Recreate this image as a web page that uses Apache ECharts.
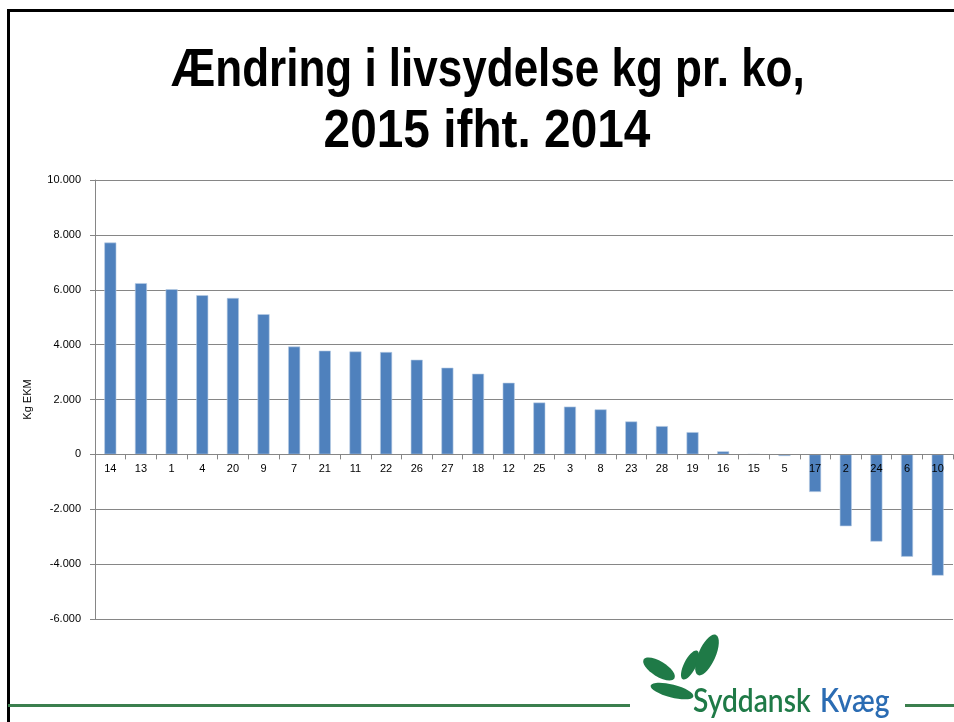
<!DOCTYPE html>
<html>
<head>
<meta charset="utf-8">
<title>Ændring i livsydelse</title>
<script src="https://cdn.jsdelivr.net/npm/echarts@6/dist/echarts.min.js"></script>
<style>
    html, body { margin: 0; padding: 0; background: #fff; }
    #j-echart-cont { width: 954px; height: 722px; }
</style>
</head>
<body>
<div id="j-echart-cont"></div>
<script>
// besætninger (kategorier) og ændring i kg EKM
var categories = ['14', '13', '1', '4', '20', '9', '7', '21', '11', '22', '26', '27', '18', '12',
    '25', '3', '8', '23', '28', '19', '16', '15', '5', '17', '2', '24', '6', '10'];
var changeValues = [7720, 6240, 6020, 5800, 5700, 5110, 3930, 3780, 3750, 3730, 3450, 3160, 2940, 2610,
    1890, 1740, 1640, 1200, 1030, 810, 110, 0, -60, -1370, -2620, -3180, -3730, -4420];
var yTicks = { min: -6000, max: 10000, interval: 2000 };

var titleLines = ['Ændring i livsydelse kg pr. ko,', '2015 ifht. 2014'];

// tusindtals-punktum som i dansk excel
var fmtDk = function(v){
    var s = String(Math.abs(v)).replace(/\B(?=(\d{3})+(?!\d))/g, '.');
    return (v < 0 ? '-' : '') + s;
};

var green = '#1f7a47';
var labelFont = 'Liberation Sans, Arial, sans-serif';

// plot-område (px)
var gridTop = 180, gridBottom = 103, chartH = 722;
var plotH = chartH - gridTop - gridBottom;
// x-aksen skal ligge på 0-linjen, labels følger med
var zeroOffset = -plotH * (0 - yTicks.min) / (yTicks.max - yTicks.min);

var titleStyle = function(txt){
    return {
        text: txt,
        fill: '#000',
        font: 'bold 54px "Liberation Sans", Arial, sans-serif',
        textAlign: 'center',
        textVerticalAlign: 'middle'
    };
};

var option = {
    backgroundColor: '#fff',
    animation: false,
    grid: {
        left: 95,
        right: 1,
        top: gridTop,
        bottom: gridBottom,
        containLabel: false
    },
    xAxis: {
        type: 'category',
        data: categories,
        z: 5,
        offset: zeroOffset,
        axisLine: { onZero: false, lineStyle: { color: '#868686', width: 1 } },
        axisTick: { show: true, alignWithLabel: false, length: 5, lineStyle: { color: '#868686' } },
        axisLabel: {
            margin: 9,
            color: '#000',
            fontSize: 11,
            fontFamily: labelFont,
            interval: 0
        },
        splitLine: { show: false }
    },
    yAxis: {
        type: 'value',
        min: yTicks.min,
        max: yTicks.max,
        interval: yTicks.interval,
        name: 'Kg EKM',
        nameLocation: 'middle',
        nameGap: 62,
        nameTextStyle: {
            color: '#000',
            fontSize: 11,
            fontFamily: labelFont
        },
        axisLine: { show: true, lineStyle: { color: '#868686', width: 1 } },
        axisTick: { show: true, length: 5, lineStyle: { color: '#868686' } },
        axisLabel: {
            margin: 14,
            color: '#000',
            fontSize: 11,
            fontFamily: labelFont,
            formatter: fmtDk
        },
        splitLine: { show: true, lineStyle: { color: '#868686', width: 1 } }
    },
    series: [{
        name: 'Ændring',
        type: 'bar',
        data: changeValues,
        barWidth: 12,
        itemStyle: {
            color: '#4f81bd',
            borderColor: '#b8cce4',
            borderWidth: 0.6
        }
    }],
    graphic: [
        // titel, smal skrift
        { type: 'text', x: 488, y: 71, scaleX: 0.815, z: 10, style: titleStyle(titleLines[0]) },
        { type: 'text', x: 487, y: 132, scaleX: 0.885, z: 10, style: titleStyle(titleLines[1]) },
        // sort ramme oppe og til venstre
        { type: 'rect', shape: { x: 7, y: 9, width: 947, height: 3 }, style: { fill: '#000' }, z: 10 },
        { type: 'rect', shape: { x: 7, y: 9, width: 3, height: 713 }, style: { fill: '#000' }, z: 10 },
        // grøn linje i bunden
        { type: 'rect', shape: { x: 8, y: 704, width: 622, height: 3 }, style: { fill: '#3b7f4e' }, z: 10 },
        { type: 'rect', shape: { x: 905, y: 704, width: 49, height: 3 }, style: { fill: '#3b7f4e' }, z: 10 },
        // logo blade
        { type: 'ellipse', shape: { cx: 0, cy: 0, rx: 18, ry: 7.5 }, x: 659, y: 669, rotation: -0.55, style: { fill: green }, z: 10 },
        { type: 'ellipse', shape: { cx: 0, cy: 0, rx: 22, ry: 6.5 }, x: 672, y: 691, rotation: -0.25, style: { fill: green }, z: 10 },
        { type: 'ellipse', shape: { cx: 0, cy: 0, rx: 16, ry: 6 }, x: 690, y: 665, rotation: 1.1, style: { fill: green }, z: 10 },
        { type: 'ellipse', shape: { cx: 0, cy: 0, rx: 22, ry: 8.5 }, x: 707, y: 655, rotation: 1.15, style: { fill: green }, z: 10 },
        // logo tekst
        {
            type: 'text', x: 693, y: 718, scaleX: 0.88, z: 10,
            style: {
                text: 'Syddansk',
                fill: green,
                font: '600 32px Lato, "Open Sans", sans-serif',
                textVerticalAlign: 'bottom'
            }
        },
        {
            type: 'text', x: 820, y: 718, scaleX: 0.88, z: 10,
            style: {
                text: 'Kvæg',
                fill: '#2b6cb3',
                font: '600 32px Lato, "Open Sans", sans-serif',
                textVerticalAlign: 'bottom'
            }
        }
    ]
};

var eChartCont = document.getElementById('j-echart-cont');
var myChart = echarts.init(eChartCont);
myChart.setOption(option);
</script>
</body>
</html>
